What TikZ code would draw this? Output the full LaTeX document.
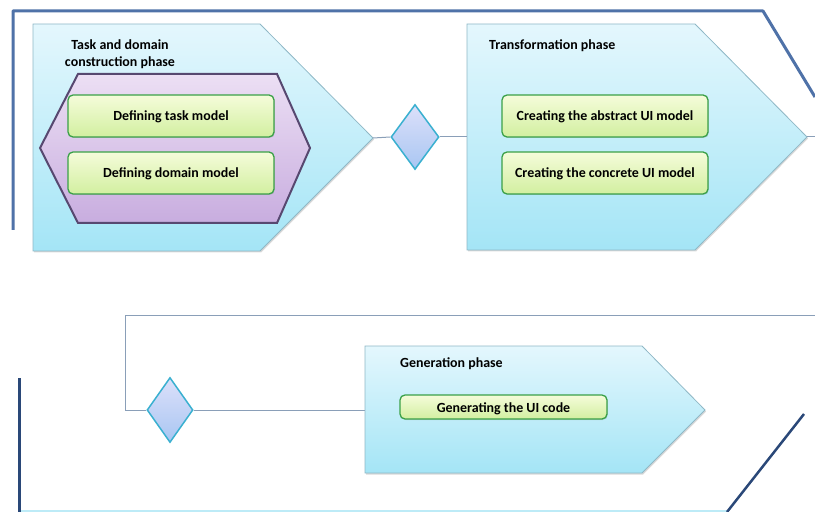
\documentclass[tikz,border=0pt]{standalone}
\usepackage{fontspec}
\setmainfont{Carlito}
\usetikzlibrary{shapes.geometric,shadows}

\definecolor{frameblue}{HTML}{4F72A8}
\definecolor{navy}{HTML}{2A4878}
\definecolor{wire}{HTML}{8A9FB8}
\definecolor{phaseedge}{HTML}{8FB8C6}
\definecolor{phasetop}{HTML}{E4F7FD}
\definecolor{phasebot}{HTML}{A4E5F6}
\definecolor{hexedge}{HTML}{574870}
\definecolor{hextop}{HTML}{ECDFF4}
\definecolor{hexbot}{HTML}{C8ADDF}
\definecolor{stepedge}{HTML}{3AA048}
\definecolor{steptop}{HTML}{F5FCDA}
\definecolor{stepbot}{HTML}{D2EFA0}
\definecolor{gatetop}{HTML}{DCE0FA}
\definecolor{gatebot}{HTML}{A9C6F2}
\definecolor{gateedge}{HTML}{3AB0D0}
\definecolor{basecyan}{HTML}{BDEBF7}

\tikzset{
  phasebox/.style={draw=phaseedge, line width=0.8bp, top color=phasetop, bottom color=phasebot,
    drop shadow={opacity=0.3, shadow xshift=1bp, shadow yshift=-1.5bp}},
  groupbox/.style={draw=hexedge, line width=2bp, top color=hextop, bottom color=hexbot},
  stepbox/.style={draw=stepedge, line width=1.3bp, rounded corners=5bp,
    top color=steptop, bottom color=stepbot, font=\bfseries\fontsize{14}{16}\selectfont,
    inner sep=0pt, minimum height=42bp, text height=10bp, text depth=0bp,
    drop shadow={opacity=0.25, shadow xshift=0.8bp, shadow yshift=-1bp}},
  gate/.style={diamond, draw=gateedge, line width=1.5bp, top color=gatetop, bottom color=gatebot,
    inner sep=0pt, minimum width=48bp, minimum height=65bp},
  wireline/.style={draw=wire, line width=1bp},
  heading/.style={font=\bfseries\fontsize{14}{17}\selectfont, inner sep=0pt},
}

\begin{document}
\begin{tikzpicture}[x=1bp, y=-1bp]
\useasboundingbox (0,0) rectangle (815,512);

% outer lane frames
\draw[frameblue, line width=3bp, line join=round] (13,230) -- (13,11) -- (763,11) -- (815,97);
\draw[basecyan, line width=1.5bp] (19,511) -- (727,511);
\draw[navy, line width=3bp] (19,378) -- (19,512);
\draw[navy, line width=2.5bp] (727,512) -- (804,414);

% phase 1: task and domain construction
\path[phasebox] (33,24) -- (260,24) -- (373,138) -- (260,251) -- (33,251) -- cycle;
\coordinate (p1tip) at (373,138);
\node[heading, align=center] (t1) at (120,54) {Task and domain\\construction phase};
\path[groupbox] (78,74) -- (277,74) -- (310,148) -- (277,223) -- (78,223) -- (40,148) -- cycle;
\node[stepbox, minimum width=206bp] (task) at (171,116) {Defining task model};
\node[stepbox, minimum width=206bp] (domain) at (171,173) {Defining domain model};

% phase 2: transformation
\path[phasebox] (467,24) -- (695,24) -- (807,137) -- (695,250) -- (467,250) -- cycle;
\coordinate (p2in) at (467,137);
\coordinate (p2tip) at (807,137);
\coordinate (p2out) at (815,137);
\node[heading, anchor=west] (t2) at (489,46) {Transformation phase};
\node[stepbox, minimum width=206bp] (abstract) at (605,116) {Creating the abstract UI model};
\node[stepbox, minimum width=206bp] (concrete) at (605,173) {Creating the concrete UI model};

% gate between phase 1 and phase 2
\node[gate] (g1) at (415,137) {};
\draw[wireline] (p1tip) -- (g1.west);
\draw[wireline] (g1.east) -- (p2in);
\draw[wireline] (p2tip) -- (p2out);

% phase 3: generation
\coordinate (r1) at (815,315);
\coordinate (r2) at (125,315);
\coordinate (r3) at (125,410);
\coordinate (p3in) at (365,410);
\node[gate, minimum width=46bp] (g2) at (170,410) {};
\draw[wireline] (r1) -- (r2) -- (r3) -- (g2.west);
\draw[wireline] (g2.east) -- (p3in);
\path[phasebox] (365,346) -- (642,346) -- (705,410) -- (642,473) -- (365,473) -- cycle;
\node[heading, anchor=west] (t3) at (400,364) {Generation phase};
\node[stepbox, minimum width=207bp, minimum height=24bp] (code) at (503.5,407) {Generating the UI code};

\end{tikzpicture}
\end{document}
